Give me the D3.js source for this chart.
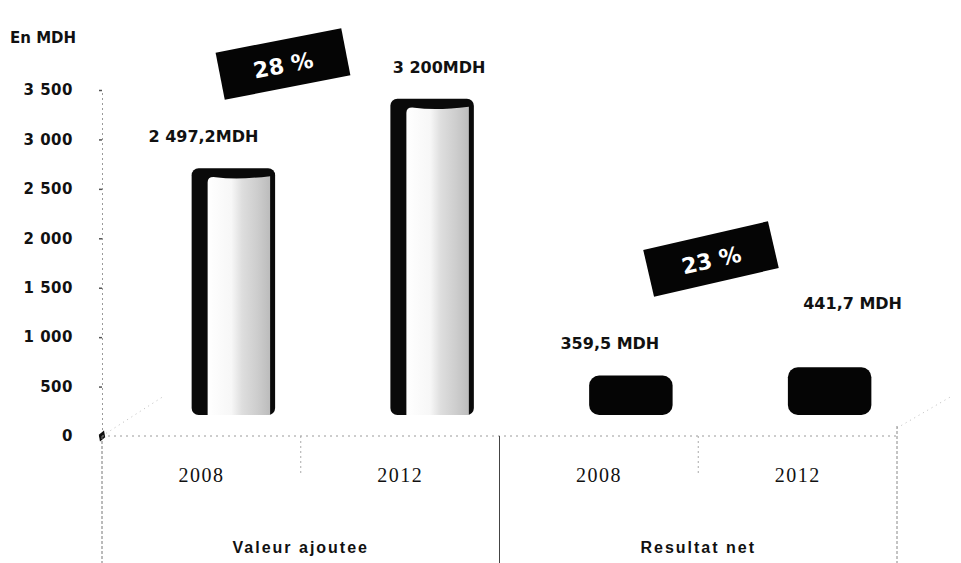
<!DOCTYPE html>
<html>
<head>
<meta charset="utf-8">
<script src="https://cdn.jsdelivr.net/npm/d3@7"></script>
<style>
  html, body { margin: 0; padding: 0; background: #fff; }
  svg { display: block; }
</style>
</head>
<body>
<svg id="chart" width="961" height="563"></svg>
<script>
// Chart data
const groups = ["Valeur ajoutee", "Resultat net"];
const years = ["2008", "2012"];
const categories = ["VA-2008", "VA-2012", "RN-2008", "RN-2012"];
const categoryGroup = ["Valeur ajoutee", "Valeur ajoutee", "Resultat net", "Resultat net"];
const categoryYear = ["2008", "2012", "2008", "2012"];
const values = [2497.2, 3200, 359.5, 441.7];
const valueLabels = ["2 497,2MDH", "3 200MDH", "359,5 MDH", "441,7 MDH"];
const growthLabels = ["28 %", "23 %"];
const yTicks = [0, 500, 1000, 1500, 2000, 2500, 3000, 3500];
const yTickLabels = ["0", "500", "1 000", "1 500", "2 000", "2 500", "3 000", "3 500"];
const unitLabel = "En MDH";

const svg = d3.select("#chart");
const W = 961, H = 563;

// Plot frame
const plotLeft = 102, plotRight = 897, plotTop = 90, plotBottom = 436;
// 3D depth offset of the bars relative to the floor front edge
const depthX = 32, depthY = -21;

const x = d3.scaleBand().domain(categories).range([plotLeft, plotRight]).padding(0);
const y = d3.scaleLinear().domain([0, 3500]).range([plotBottom, plotTop]);
const groupScale = d3.scaleBand().domain(groups).range([plotLeft, plotRight]).padding(0);

const defs = svg.append("defs");
const grad = defs.append("linearGradient").attr("id", "cyl")
  .attr("x1", "0%").attr("x2", "100%").attr("y1", "0%").attr("y2", "0%");
[["0%", "#ffffff"], ["38%", "#f7f7f7"], ["55%", "#dedede"], ["80%", "#cdcdcd"], ["100%", "#bcbcbc"]]
  .forEach(([o, c]) => grad.append("stop").attr("offset", o).attr("stop-color", c));

// Faint 3D floor outline
const floor = svg.append("g").attr("stroke", "#bdbdbd").attr("stroke-width", 1)
  .attr("stroke-dasharray", "1,4").attr("fill", "none");
floor.append("line").attr("x1", plotLeft).attr("y1", plotBottom).attr("x2", plotLeft + 62).attr("y2", plotBottom - 40);
floor.append("line").attr("x1", plotRight).attr("y1", plotBottom - 8).attr("x2", plotRight + 55).attr("y2", plotBottom - 40);

// Y axis (dotted line with ticks)
const yAxis = d3.axisLeft(y).tickValues(yTicks).tickSize(3)
  .tickFormat((d, i) => yTickLabels[i]);
const gy = svg.append("g").attr("transform", `translate(${plotLeft},0)`).call(yAxis);
gy.select(".domain").attr("stroke", "#9a9a9a").attr("stroke-dasharray", "2,3");
gy.selectAll(".tick line").attr("stroke", "#555").attr("stroke-width", 1.5);
gy.selectAll(".tick text")
  .attr("x", -29)
  .attr("font-family", "'DejaVu Sans', sans-serif")
  .attr("font-weight", "bold")
  .attr("font-size", 15)
  .attr("letter-spacing", 0.5)
  .attr("fill", "#111");
// axis origin marker
svg.append("path").attr("d", d3.symbol(d3.symbolDiamond, 40)())
  .attr("transform", `translate(${plotLeft},${y(0)}) rotate(20)`).attr("fill", "#111");

// Unit label
svg.append("text").attr("x", 10).attr("y", 43)
  .attr("font-family", "'DejaVu Sans', sans-serif").attr("font-weight", "bold")
  .attr("font-size", 15).attr("fill", "#111").text(unitLabel);

// Category axis: floor baseline and separators
const cat = svg.append("g");
cat.append("line").attr("x1", plotLeft).attr("x2", plotRight).attr("y1", plotBottom).attr("y2", plotBottom)
  .attr("stroke", "#9a9a9a").attr("stroke-dasharray", "2,4");
// left border continues down
cat.append("line").attr("x1", plotLeft).attr("x2", plotLeft).attr("y1", plotBottom).attr("y2", H)
  .attr("stroke", "#777").attr("stroke-dasharray", "3,2");
// group borders
groups.forEach(g => {
  const gx = groupScale(g) + groupScale.bandwidth();
  const isEdge = Math.abs(gx - plotRight) < 1;
  cat.append("line").attr("x1", gx).attr("x2", gx).attr("y1", plotBottom - (isEdge ? 10 : 0)).attr("y2", H)
    .attr("stroke", isEdge ? "#888" : "#444").attr("stroke-width", 1)
    .attr("stroke-dasharray", isEdge ? "3,2" : null);
});
// year separators within groups
groups.forEach(g => {
  const sx = groupScale(g) + groupScale.bandwidth() / 2;
  cat.append("line").attr("x1", sx).attr("x2", sx).attr("y1", plotBottom).attr("y2", plotBottom + 40)
    .attr("stroke", "#aaa").attr("stroke-dasharray", "2,3");
});

// Year labels
cat.selectAll("text.year").data(categories).join("text")
  .attr("class", "year")
  .attr("x", d => x(d) + x.bandwidth() / 2)
  .attr("y", 482)
  .attr("text-anchor", "middle")
  .attr("font-family", "'Liberation Serif', serif")
  .attr("font-size", 20)
  .attr("letter-spacing", 1.5)
  .attr("fill", "#111")
  .text((d, i) => categoryYear[i]);

// Group labels
cat.selectAll("text.group").data(groups).join("text")
  .attr("class", "group")
  .attr("x", d => groupScale(d) + groupScale.bandwidth() / 2)
  .attr("y", 553)
  .attr("text-anchor", "middle")
  .attr("font-family", "'Liberation Sans', sans-serif")
  .attr("font-weight", "bold")
  .attr("font-size", 16)
  .attr("letter-spacing", 2)
  .attr("fill", "#111")
  .text(d => d);

// Bars
const barW = x.bandwidth() * 0.42;
const bars = svg.append("g");
categories.forEach((c, i) => {
  const cx = x(c) + x.bandwidth() / 2 + depthX;
  const x0 = cx - barW / 2;
  const yTop = y(values[i]) + depthY;
  const yBase = y(0) + depthY;
  const h = yBase - yTop;
  if (categoryGroup[i] === "Valeur ajoutee") {
    // cylinder: dark left side, thin dark right edge, dark top rim, light shaded body
    bars.append("rect").attr("x", x0).attr("y", yTop).attr("width", barW).attr("height", h)
      .attr("rx", 7).attr("fill", "#0a0a0a");
    bars.append("path")
      .attr("d", `M${x0 + 16},${yBase} L${x0 + 16},${yTop + 14}
                  Q${x0 + 16},${yTop + 8} ${x0 + 24},${yTop + 9}
                  Q${x0 + barW * 0.55},${yTop + 12} ${x0 + barW - 5},${yTop + 8}
                  L${x0 + barW - 5},${yBase} Z`)
      .attr("fill", "url(#cyl)");
  } else {
    bars.append("rect").attr("x", x0).attr("y", yTop - 4).attr("width", barW).attr("height", h + 4)
      .attr("rx", 10).attr("fill", "#050505");
  }
});

// Value labels
const labelDx = [-30, 7, -21, 23];
const labelDy = [-26, -26, -30, -62];
svg.append("g").selectAll("text").data(categories).join("text")
  .attr("x", (d, i) => x(d) + x.bandwidth() / 2 + depthX + labelDx[i])
  .attr("y", (d, i) => y(values[i]) + depthY + labelDy[i])
  .attr("text-anchor", "middle")
  .attr("font-family", "'DejaVu Sans', sans-serif")
  .attr("font-weight", "bold")
  .attr("font-size", 16)
  .attr("fill", "#111")
  .text((d, i) => valueLabels[i]);

// Growth badges (rotated black tags)
const badgeCenters = [[283, 64], [711, 259]];
const badgeAngles = [-11, -13];
growthLabels.forEach((t, i) => {
  const g = svg.append("g")
    .attr("transform", `translate(${badgeCenters[i][0]},${badgeCenters[i][1]}) rotate(${badgeAngles[i]})`);
  g.append("rect").attr("x", -64).attr("y", -24).attr("width", 128).attr("height", 48)
    .attr("fill", "#050505");
  g.append("text").attr("x", 0).attr("y", 9)
    .attr("text-anchor", "middle")
    .attr("font-family", "'DejaVu Sans', sans-serif")
    .attr("font-weight", "bold")
    .attr("font-size", 22)
    .attr("fill", "#fff")
    .text(t);
});
</script>
</body>
</html>
